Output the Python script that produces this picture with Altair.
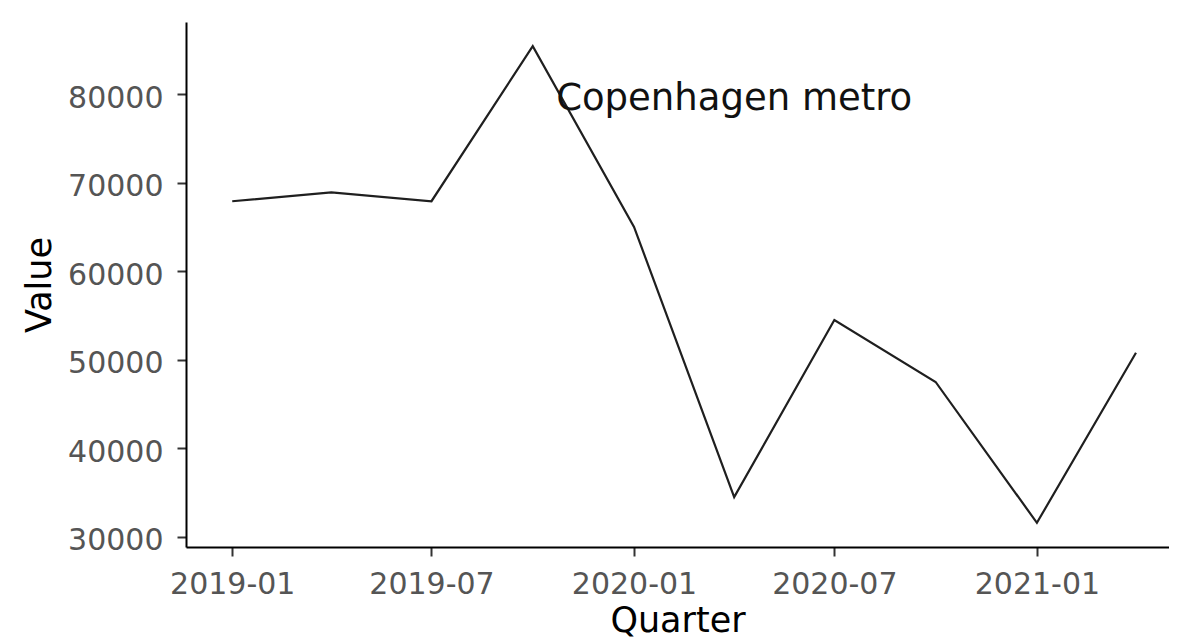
import altair as alt
import pandas as pd

# ---- data ----
quarters = ["2019-01-01", "2019-04-01", "2019-07-01", "2019-10-01", "2020-01-01",
            "2020-04-01", "2020-07-01", "2020-10-01", "2021-01-01", "2021-04-01"]
values = [67900, 68900, 67900, 85400, 65000, 34500, 54500, 47500, 31600, 50800]

x_tick_dates = ["2019-01-01", "2019-07-01", "2020-01-01", "2020-07-01", "2021-01-01"]
y_tick_values = [30000, 40000, 50000, 60000, 70000, 80000]

label_text = ["Copenhagen metro"]
label_x = ["2020-04-01"]
label_y = [80000]

x_domain = ["2018-11-20", "2021-05-01"]
y_domain = [28870, 88130]

FONT = "DejaVu Sans"


def to_dt(s):
    y, m, d = (int(p) for p in s.split("-"))
    return alt.DateTime(year=y, month=m, date=d, utc=True)


df = pd.DataFrame({"Quarter": quarters, "Value": values})
lab = pd.DataFrame({"Quarter": label_x, "Value": label_y, "text": label_text})

W, H = 983, 525

x_enc = alt.X(
    "Quarter:T",
    scale=alt.Scale(type="utc", domain=[to_dt(d) for d in x_domain], nice=False),
    axis=alt.Axis(
        values=[to_dt(d) for d in x_tick_dates],
        labelExpr="utcFormat(datum.value, '%Y-%m')",
        title="Quarter",
        grid=False,
        labelBaseline="alphabetic",
        labelPadding=37,
        labelAlign="center",
        titleX=W / 2,
        titleY=84,
        titleBaseline="alphabetic",
        titleAlign="center",
        labelFlush=False,
        labelOverlap=False,
    ),
)

y_enc = alt.Y(
    "Value:Q",
    scale=alt.Scale(domain=y_domain, nice=False, zero=False),
    axis=alt.Axis(
        values=y_tick_values,
        format="d",
        title="Value",
        grid=False,
        labelBaseline="alphabetic",
        labelOffset=13,
        labelPadding=14,
        titleX=-136,
        titleY=H / 2,
        titleAngle=270,
        titleBaseline="alphabetic",
        titleAlign="center",
        labelFlush=False,
        labelOverlap=False,
    ),
)

line = alt.Chart(df).mark_line(color="#1f1f1f", strokeWidth=2.2).encode(x=x_enc, y=y_enc)

text = alt.Chart(lab).mark_text(
    font=FONT, fontSize=37, color="#111111", align="center",
    baseline="alphabetic", dy=16
).encode(
    x=alt.X("Quarter:T"),
    y=alt.Y("Value:Q"),
    text="text:N",
)

chart = (
    alt.layer(line, text)
    .properties(
        width=W,
        height=H,
        autosize=alt.AutoSizeParams(type="none"),
        padding={"left": 178, "top": 14, "right": 0, "bottom": 97},
        background="white",
    )
    .configure_view(stroke=None)
    .configure_axis(
        domainColor="#000000",
        domainWidth=2,
        tickColor="#333333",
        tickWidth=2,
        tickSize=9,
        labelFont=FONT,
        labelFontSize=30,
        labelColor="#555555",
        titleFont=FONT,
        titleFontSize=35,
        titleFontWeight="normal",
        titleColor="#000000",
    )
)

chart.save("out.html", embed_options={"renderer": "svg", "actions": False})
